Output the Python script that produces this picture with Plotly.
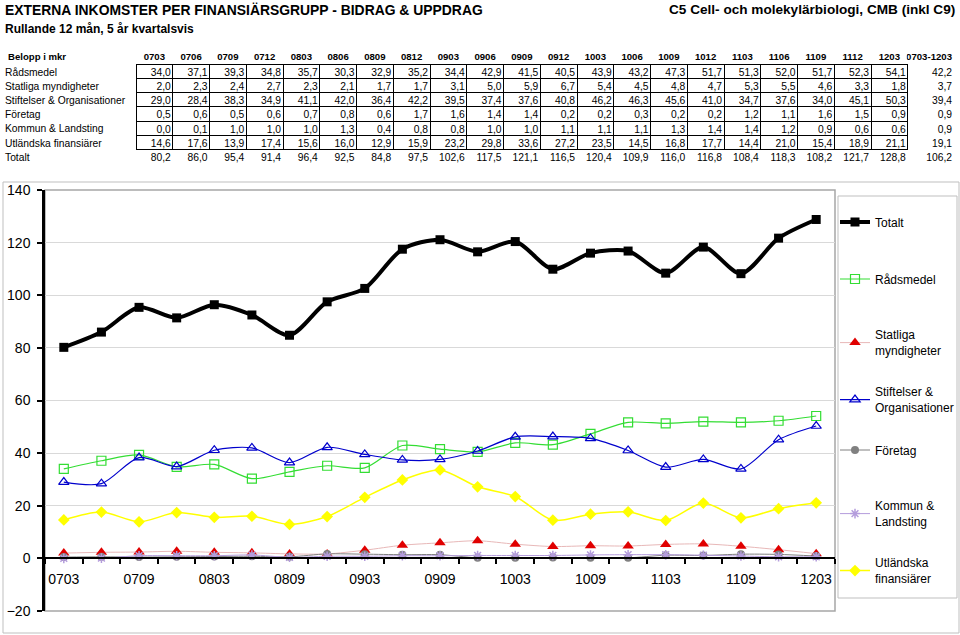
import plotly.graph_objects as go

# ---------------- data ----------------
categories = ["0703", "0706", "0709", "0712", "0803", "0806", "0809", "0812", "0903", "0906",
              "0909", "0912", "1003", "1006", "1009", "1012", "1103", "1106", "1109", "1112", "1203"]
period_label = "0703-1203"

radsmedel = [34.0, 37.1, 39.3, 34.8, 35.7, 30.3, 32.9, 35.2, 34.4, 42.9, 41.5, 40.5, 43.9, 43.2,
             47.3, 51.7, 51.3, 52.0, 51.7, 52.3, 54.1]
statliga = [2.0, 2.3, 2.4, 2.7, 2.3, 2.1, 1.7, 1.7, 3.1, 5.0, 5.9, 6.7, 5.4, 4.5,
            4.8, 4.7, 5.3, 5.5, 4.6, 3.3, 1.8]
stiftelser = [29.0, 28.4, 38.3, 34.9, 41.1, 42.0, 36.4, 42.2, 39.5, 37.4, 37.6, 40.8, 46.2, 46.3,
              45.6, 41.0, 34.7, 37.6, 34.0, 45.1, 50.3]
foretag = [0.5, 0.6, 0.5, 0.6, 0.7, 0.8, 0.6, 1.7, 1.6, 1.4, 1.4, 0.2, 0.2, 0.3,
           0.2, 0.2, 1.2, 1.1, 1.6, 1.5, 0.9]
kommun = [0.0, 0.1, 1.0, 1.0, 1.0, 1.3, 0.4, 0.8, 0.8, 1.0, 1.0, 1.1, 1.1, 1.1,
          1.3, 1.4, 1.4, 1.2, 0.9, 0.6, 0.6]
utlandska = [14.6, 17.6, 13.9, 17.4, 15.6, 16.0, 12.9, 15.9, 23.2, 29.8, 33.6, 27.2, 23.5, 14.5,
             16.8, 17.7, 14.4, 21.0, 15.4, 18.9, 21.1]
totalt = [80.2, 86.0, 95.4, 91.4, 96.4, 92.5, 84.8, 97.5, 102.6, 117.5, 121.1, 116.5, 120.4, 109.9,
          116.0, 116.8, 108.4, 118.3, 108.2, 121.7, 128.8]
period_avg = [42.2, 3.7, 39.4, 0.9, 0.9, 19.1, 106.2]

table_title = "Belopp i mkr"
row_labels = ["Rådsmedel", "Statliga myndigheter", "Stiftelser & Organisationer", "Företag",
              "Kommun & Landsting", "Utländska finansiärer", "Totalt"]
legend_labels = ["Totalt", "Rådsmedel", "Statliga<br>myndigheter", "Stiftelser &<br>Organisationer",
                 "Företag", "Kommun &<br>Landsting", "Utländska<br>finansiärer"]
y_ticks = [-20, 0, 20, 40, 60, 80, 100, 120, 140]

# ---------------- helpers ----------------
W, H = 960, 635
FONT = "Liberation Sans, Arial, sans-serif"
CLEAR = "rgba(0,0,0,0)"


def px_x(x):
    return x / W


def px_y(y):
    return 1 - y / H


def fmt(v):
    return f"{v:.1f}".replace(".", ",")


def nb(s):
    return s.replace(" ", "\u00a0")


fig = go.Figure()

# ---------------- table ----------------
TFS = 10.3          # table body font size
HFS = 9.6           # table header font size
ROW_H = 14.2        # row height
LABEL_W, COL_W = 136, 36.75
n = len(categories)
LAST_W = W - LABEL_W - n * COL_W
TABLE_TOP = 50      # top of header row
TEXT_SHIFT = 5      # plotly places text below the cell centre; lift text tables
PAD_FIX = 6         # compensate plotly's right cell padding
TABLE_BOTTOM = 180

table_rows = [radsmedel, statliga, stiftelser, foretag, kommun, utlandska, totalt]
n_rows = len(row_labels)
cols = [[""] * n_rows]
for j in range(n):
    cols.append([fmt(r[j]) for r in table_rows])
cols.append([fmt(a) for a in period_avg])
grid_widths = [LABEL_W] + [COL_W] * n + [LAST_W]

# 1) grid (borders only)
line_cols = [[CLEAR] * n_rows] + [["black"] * (n_rows - 1) + [CLEAR] for _ in range(n)] + [[CLEAR] * n_rows]
fig.add_trace(go.Table(
    domain=dict(x=[0, 1], y=[px_y(TABLE_BOTTOM), px_y(TABLE_TOP)]),
    columnwidth=grid_widths,
    header=dict(values=[""] * (n + 2), line=dict(color=CLEAR, width=1), fill=dict(color=CLEAR),
                height=ROW_H, font=dict(size=TFS)),
    cells=dict(values=[[""] * n_rows for _ in range(n + 2)],
               line=dict(color=line_cols, width=1), fill=dict(color=CLEAR),
               height=ROW_H, font=dict(size=TFS)),
))

# 2) header texts (same geometry as grid)
fig.add_trace(go.Table(
    domain=dict(x=[0, 1], y=[px_y(TABLE_BOTTOM), px_y(TABLE_TOP - TEXT_SHIFT)]),
    columnwidth=grid_widths,
    header=dict(
        values=[nb(table_title)] + categories + [period_label],
        align=["left"] + ["center"] * n + ["right"],
        line=dict(color=CLEAR, width=1), fill=dict(color=CLEAR),
        font=dict(family=FONT, size=HFS, color="black", weight="bold"),
        height=ROW_H,
    ),
    cells=dict(values=[[""] for _ in range(n + 2)], line=dict(color=CLEAR, width=1),
               fill=dict(color=CLEAR), height=ROW_H, font=dict(size=TFS)),
))

# 3) body numbers (columns shifted to undo the right padding)
fig.add_trace(go.Table(
    domain=dict(x=[0, 1], y=[px_y(TABLE_BOTTOM), px_y(TABLE_TOP - TEXT_SHIFT + 0.8)]),
    columnwidth=[LABEL_W + PAD_FIX] + [COL_W] * n + [LAST_W - PAD_FIX],
    header=dict(values=[""] * (n + 2), line=dict(color=CLEAR, width=1), fill=dict(color=CLEAR),
                height=ROW_H, font=dict(size=TFS)),
    cells=dict(
        values=cols,
        align=["left"] + ["right"] * n + ["right"],
        line=dict(color=CLEAR, width=1),
        fill=dict(color=CLEAR),
        font=dict(family=FONT, size=TFS, color="black"),
        height=ROW_H,
    ),
))

# row labels of the table
row_label_annotations = [
    dict(text=lab, xref="paper", yref="paper", x=px_x(3),
         y=px_y(TABLE_TOP + ROW_H * (i + 1.5) + 0.8), xanchor="left", yanchor="middle", showarrow=False,
         font=dict(family=FONT, size=TFS, color="black"))
    for i, lab in enumerate(row_labels)
]

# ---------------- line chart ----------------
xpos = list(range(n))
series = [
    (legend_labels[0], totalt, dict(color="black", width=4), dict(symbol="square", size=9, color="black")),
    (legend_labels[1], radsmedel, dict(color="#33DD33", width=1.2),
     dict(symbol="square-open", size=9, color="#33DD33", line=dict(width=1.2, color="#33DD33"))),
    (legend_labels[2], statliga, dict(color="#E8B8B8", width=1),
     dict(symbol="triangle-up", size=10, color="#E00000")),
    (legend_labels[3], stiftelser, dict(color="#0000CC", width=1.2),
     dict(symbol="triangle-up-open", size=9, color="#0000CC", line=dict(width=1.2, color="#0000CC"))),
    (legend_labels[4], foretag, dict(color="#808080", width=1),
     dict(symbol="circle", size=8, color="#808080")),
    (legend_labels[5], kommun, dict(color="#B49CDC", width=1),
     dict(symbol="asterisk-open", size=8, color="#B49CDC", line=dict(width=1.5, color="#B49CDC"))),
    (legend_labels[6], utlandska, dict(color="#FFFF00", width=1.5),
     dict(symbol="diamond", size=9, color="#FFFF00")),
]
legend_centers = [222, 279, 343, 400, 450, 514, 571]

for i, (name, vals, line, marker) in enumerate(series):
    lname = "legend" if i == 0 else f"legend{i + 1}"
    fig.add_trace(go.Scatter(
        x=xpos, y=vals, name=name, mode="lines+markers",
        line=dict(shape="spline", smoothing=0.8, **line),
        marker=marker, legend=lname, showlegend=True, xaxis="x", yaxis="y",
    ))

X0, X1 = 45, 835
Y_TOP, Y_BOT = 190, 611
ydom = [px_y(Y_BOT), px_y(Y_TOP)]
ymin, ymax = -20, 140
zero_pos = ydom[0] + (0 - ymin) / (ymax - ymin) * (ydom[1] - ydom[0])

layout_legends = {}
for i, c in enumerate(legend_centers):
    key = "legend" if i == 0 else f"legend{i + 1}"
    layout_legends[key] = dict(
        x=px_x(835), xanchor="left", y=px_y(c), yanchor="middle",
        bgcolor=CLEAR, borderwidth=0,
        font=dict(family=FONT, size=12, color="black"),
    )

fig.update_layout(
    template="none",
    width=W, height=H,
    margin=dict(l=0, r=0, t=0, b=0),
    paper_bgcolor="white", plot_bgcolor="white",
    font=dict(family=FONT, color="black"),
    showlegend=True,
    xaxis=dict(
        domain=[px_x(X0), px_x(X1)], range=[-0.5, n - 0.5],
        anchor="free", position=zero_pos,
        tickmode="array", tickvals=xpos[::2], ticktext=categories[::2],
        ticks="", showgrid=False, zeroline=False,
        showline=True, linecolor="black", linewidth=2,
        tickfont=dict(family=FONT, size=14, color="black"),
        ticklabelstandoff=8,
        minor=dict(tickmode="linear", tick0=0.5, dtick=1, ticks="outside",
                   ticklen=5, tickwidth=2, tickcolor="black", showgrid=False),
        automargin=False, fixedrange=True,
    ),
    yaxis=dict(
        domain=ydom, range=[ymin, ymax],
        tickmode="array", tickvals=y_ticks,
        ticks="outside", ticklen=5, tickwidth=2, tickcolor="black",
        showgrid=True, gridcolor="#D9D9D9", gridwidth=1, zeroline=False,
        showline=True, linecolor="black", linewidth=2.5,
        tickfont=dict(family=FONT, size=14, color="black"),
        ticklabelstandoff=4,
        automargin=False, fixedrange=True,
    ),
    shapes=[
        dict(type="rect", xref="paper", yref="paper", x0=px_x(X0), x1=px_x(X1), y0=ydom[0], y1=ydom[1],
             line=dict(color="#A6A6A6", width=1.5), layer="below"),
        dict(type="rect", xref="paper", yref="paper", x0=px_x(838), x1=px_x(957), y0=px_y(598), y1=px_y(196),
             line=dict(color="#BFBFBF", width=1), layer="below"),
        dict(type="rect", xref="paper", yref="paper", x0=px_x(3), x1=px_x(959), y0=px_y(633), y1=px_y(182),
             line=dict(color="#BFBFBF", width=1), layer="below"),
    ],
    annotations=[
        dict(text="<b>EXTERNA INKOMSTER PER FINANSIÄRSGRUPP - BIDRAG & UPPDRAG</b>", xref="paper", yref="paper",
             x=px_x(3), y=px_y(10), xanchor="left", yanchor="middle", showarrow=False,
             font=dict(family=FONT, size=13.9, color="black")),
        dict(text="<b>Rullande 12 mån, 5 år kvartalsvis</b>", xref="paper", yref="paper",
             x=px_x(3), y=px_y(29), xanchor="left", yanchor="middle", showarrow=False,
             font=dict(family=FONT, size=12, color="black")),
        dict(text="<b>C5 Cell- och molekylärbiologi, CMB (inkl C9)</b>", xref="paper", yref="paper",
             x=px_x(957), y=px_y(10), xanchor="right", yanchor="middle", showarrow=False,
             font=dict(family=FONT, size=13.6, color="black")),
    ] + row_label_annotations,
    **layout_legends,
)

fig.write_html(
    "out.html",
    config={"displayModeBar": False},
    post_script="document.body.style.margin='0';document.body.style.overflow='hidden';",
)
